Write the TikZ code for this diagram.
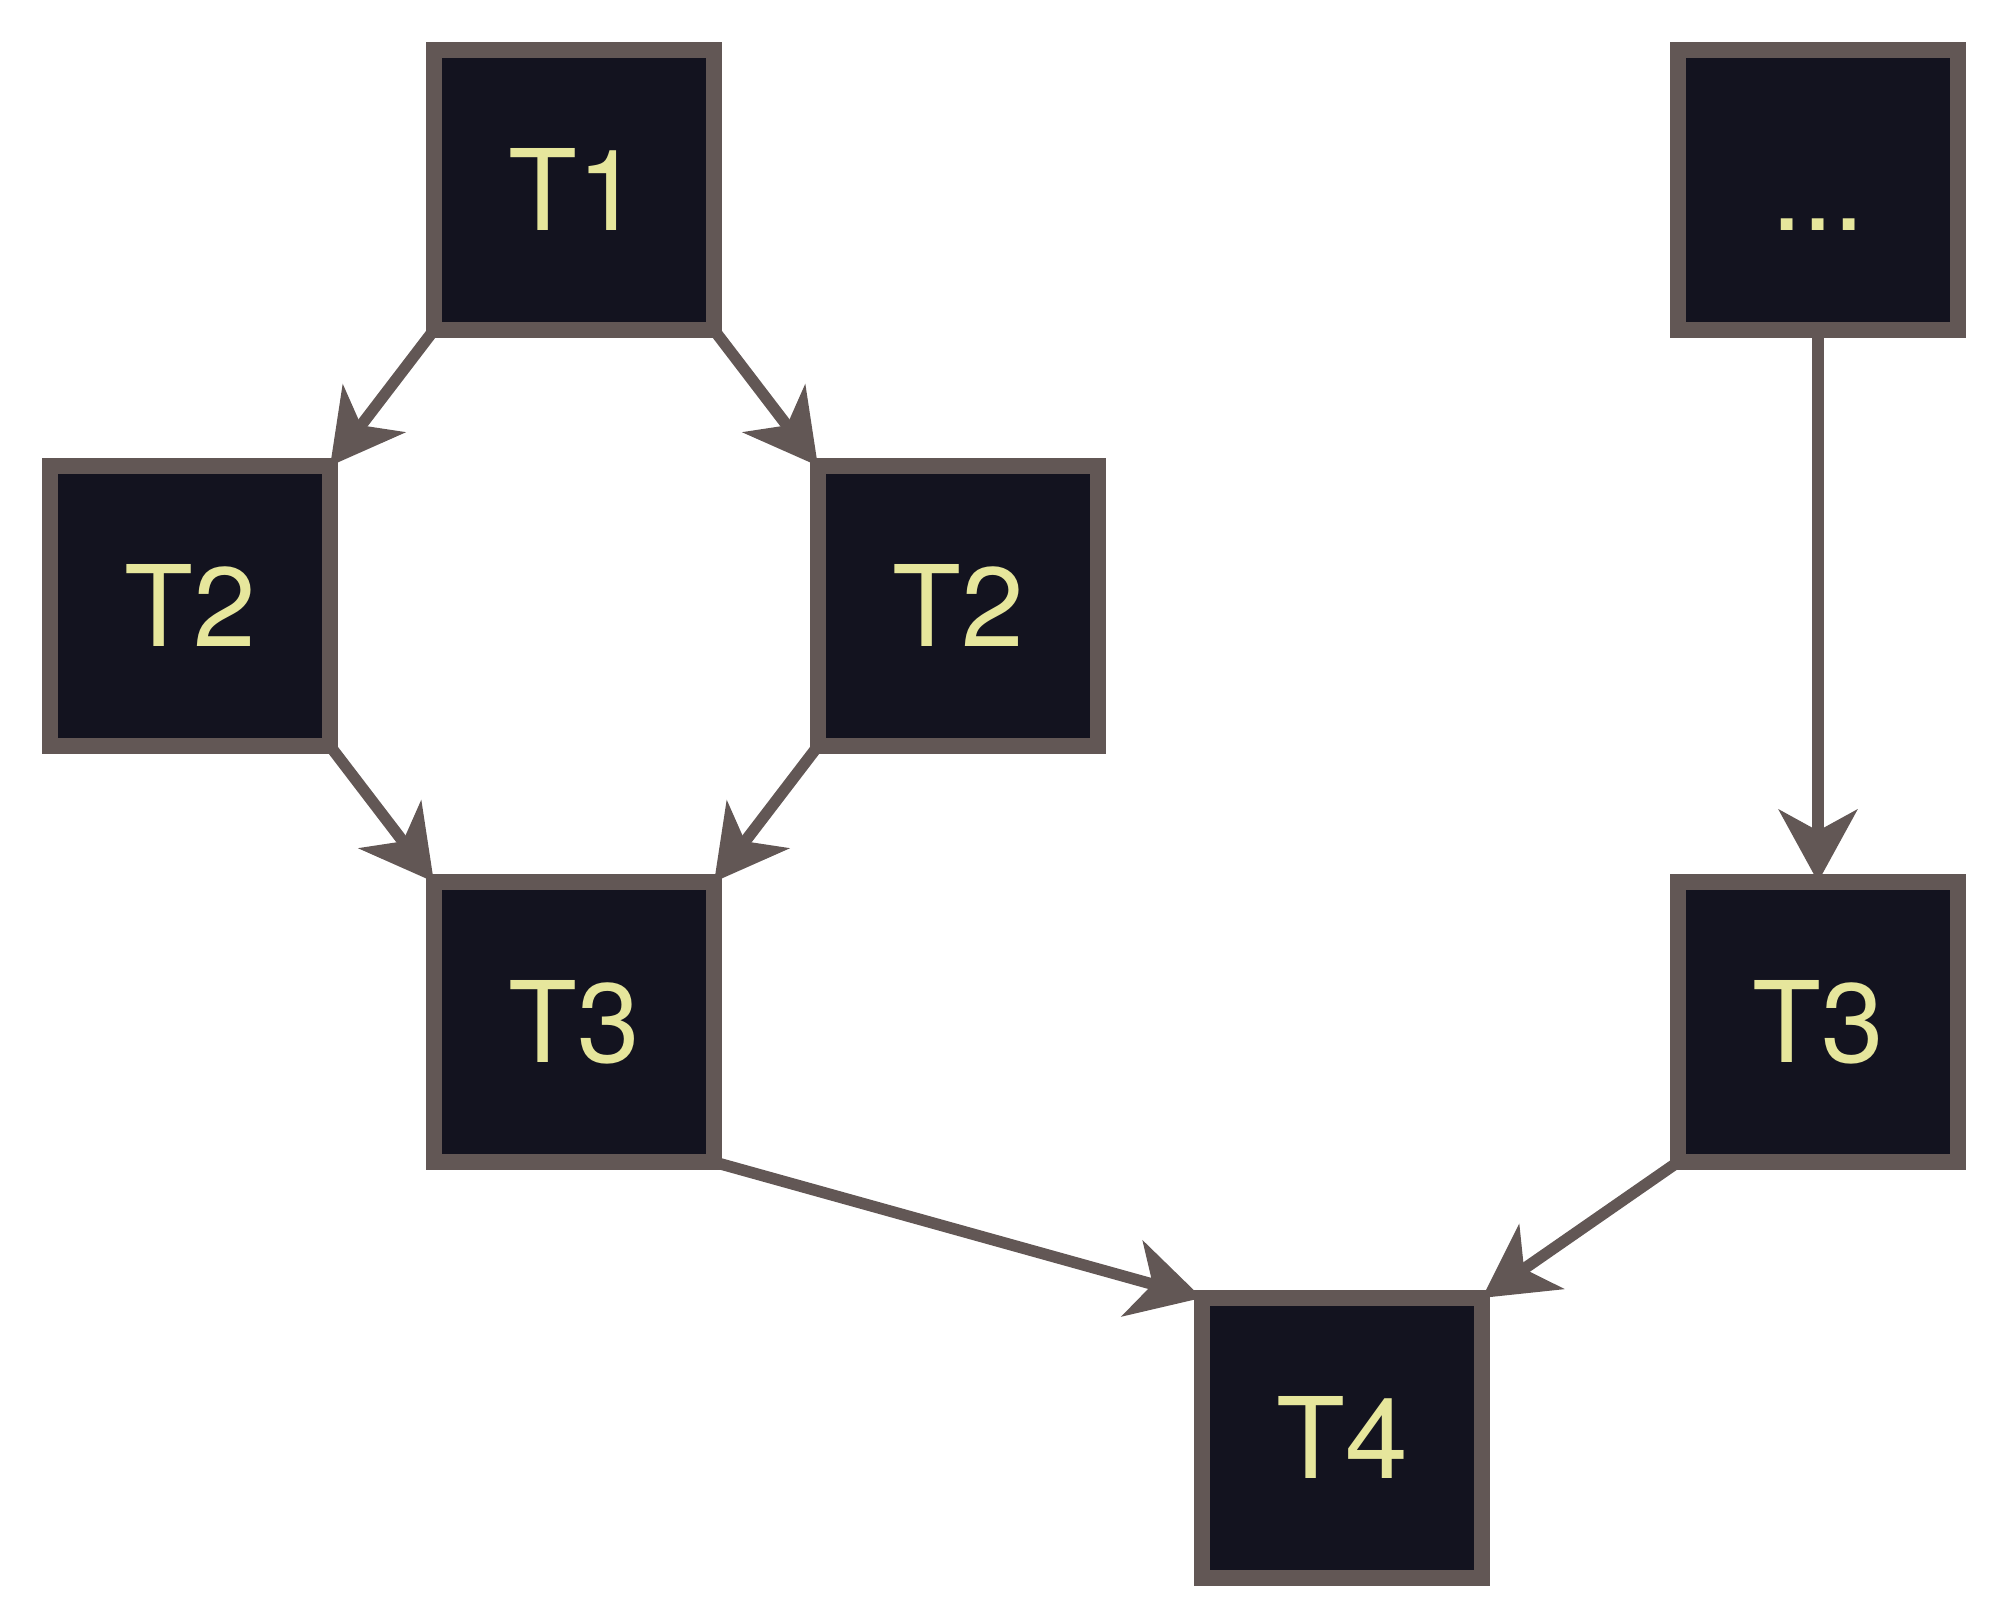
\documentclass[tikz,border=0pt]{standalone}
\usepackage{fontspec}
\setmainfont{TeX Gyre Heros}
\usetikzlibrary{arrows.meta}
\definecolor{boxfill}{RGB}{19,19,31}
\definecolor{boxline}{RGB}{98,87,85}
\definecolor{boxtext}{RGB}{230,230,156}
\begin{document}
\begin{tikzpicture}[x=0.01cm,y=-0.01cm,
  task/.style={draw=boxline, fill=boxfill, line width=0.16cm,
    minimum width=2.8cm, minimum height=2.8cm, inner sep=0pt, outer sep=0pt,
    text=boxtext, text height=0.81cm, text depth=0pt,
    font=\fontsize{32}{38}\selectfont},
  link/.style={draw=boxline, line width=0.115cm,
    -{Stealth[length=0.72cm, width=0.78cm, inset=0.21cm]}}]
\useasboundingbox (0,0) rectangle (2008,1624);
\node[task] (t1)   at (574,190)  {T1};
\node[task] (dots) at (1818,190) {...};
\node[task] (t2a)  at (190,606)  {T2};
\node[task] (t2b)  at (958,606)  {T2};
\node[task] (t3a)  at (574,1022) {T3};
\node[task] (t3b)  at (1818,1022) {T3};
\node[task] (t4)   at (1342,1438) {T4};
\draw[link] (t1.south west) -- (t2a.north east);
\draw[link] (t1.south east) -- (t2b.north west);
\draw[link] (t2a.south east) -- (t3a.north west);
\draw[link] (t2b.south west) -- (t3a.north east);
\draw[link] (t3a.south east) -- (t4.north west);
\draw[link] (dots.south) -- (t3b.north);
\draw[link] (t3b.south west) -- (t4.north east);
\end{tikzpicture}
\end{document}
